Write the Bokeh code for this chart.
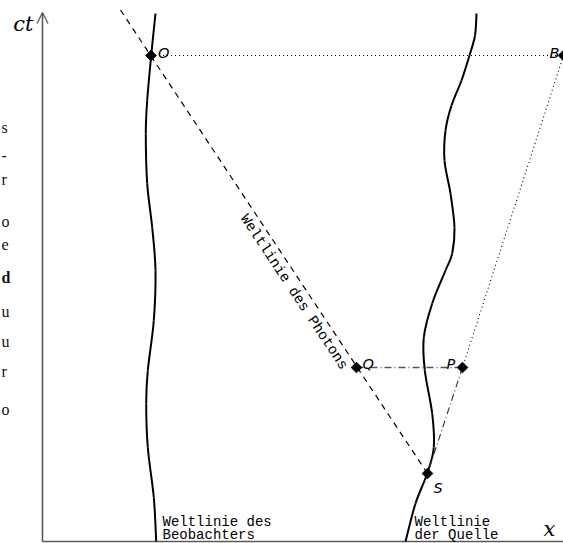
import math
from bokeh.plotting import figure
from bokeh.models import Range1d, Arrow, OpenHead, ColumnDataSource
from bokeh.core.properties import value
from bokeh.embed import file_html
from bokeh.resources import INLINE

# Coordinates: x and ct in picture units (origin at the axes' corner)
obs_x = [113, 108.7, 104.7, 103.3, 104.7, 109.7, 113, 111.3, 105.3, 103.7, 105.3, 111.3, 113.7]
obs_ct = [528, 486, 441, 408, 358, 314, 271, 221, 171, 138, 94, 44, 0]

src_x = [434, 432.5, 427, 419, 409, 403, 402, 408, 412, 409.7, 403, 389.7, 381.3, 382.3, 389.7, 391.3, 384.7, 373, 363]
src_ct = [528, 506, 486, 461, 436, 411, 381, 348, 314, 288, 271, 238, 204, 171, 128, 94, 68, 38, 0]

# events
ev_names = ["O", "B", "Q", "P", "S"]
ev_x = [108.5, 521, 314, 420, 385]
ev_ct = [486, 486, 174, 174, 68]

# photon world line (from S through Q and O up to the top)
photon_x = [385, 77]
photon_ct = [68, 533]

# text fragments at the left edge (rest of a neighbouring text)
frag_text = ["s", "-", "r", "o", "e", "d", "u", "u", "r", "o"]
frag_ct = [414, 386, 362, 320, 297, 264, 230, 200, 170, 132]
frag_style = ["normal"] * 5 + ["bold"] + ["normal"] * 4


def catmull_bezier(xs, ys):
    n = len(xs)
    out = dict(x0=[], y0=[], x1=[], y1=[], cx0=[], cy0=[], cx1=[], cy1=[])
    for i in range(n - 1):
        xa, ya = xs[max(i - 1, 0)], ys[max(i - 1, 0)]
        xb, yb = xs[i], ys[i]
        xc, yc = xs[i + 1], ys[i + 1]
        xd, yd = xs[min(i + 2, n - 1)], ys[min(i + 2, n - 1)]
        out["x0"].append(xb); out["y0"].append(yb)
        out["x1"].append(xc); out["y1"].append(yc)
        out["cx0"].append(xb + (xc - xa) / 6); out["cy0"].append(yb + (yc - ya) / 6)
        out["cx1"].append(xc - (xd - xb) / 6); out["cy1"].append(yc - (yd - yb) / 6)
    return ColumnDataSource(out)


W, H = 563, 543
p = figure(width=W, height=H, output_backend="svg", toolbar_location=None,
           x_range=Range1d(-42, 521), y_range=Range1d(-2, 541),
           min_border=0, outline_line_color=None)
p.axis.visible = False
p.grid.visible = False
p.background_fill_color = "white"
p.border_fill_color = "white"

ax_col = "#5a5a5a"
# axes
p.line([0, 521], [0, 0], line_color=ax_col, line_width=1.6)
p.add_layout(Arrow(end=OpenHead(size=11, line_color=ax_col, line_width=1.3),
                   x_start=0, y_start=0, x_end=0, y_end=529,
                   line_color=ax_col, line_width=1.6))

# world lines (smooth curves through the read points)
for xs, ys in ((obs_x, obs_ct), (src_x, src_ct)):
    p.bezier(x0="x0", y0="y0", x1="x1", y1="y1", cx0="cx0", cy0="cy0",
             cx1="cx1", cy1="cy1", source=catmull_bezier(xs, ys),
             line_color="black", line_width=2)

# photon
p.line(photon_x, photon_ct, line_color="black", line_width=1.2, line_dash="6 5")

idx = {n: i for i, n in enumerate(ev_names)}
def pt(n):
    return ev_x[idx[n]], ev_ct[idx[n]]

# O -> B dotted
p.line([pt("O")[0], pt("B")[0]], [pt("O")[1], pt("B")[1]], line_color="black",
       line_width=1.1, line_dash="1 3")
# B -> P dotted
p.line([pt("B")[0], pt("P")[0]], [pt("B")[1], pt("P")[1]], line_color="black",
       line_width=1.1, line_dash="1 3")
# Q -> P dash-dot
p.line([pt("Q")[0], pt("P")[0]], [pt("Q")[1], pt("P")[1]], line_color="#555555",
       line_width=1.3, line_dash="7 3 1 3")
# P -> S dash-dot
p.line([pt("P")[0], pt("S")[0]], [pt("P")[1], pt("S")[1]], line_color="#333333",
       line_width=1.1, line_dash="7 3 1 3")

# event markers
p.scatter(ev_x, ev_ct, marker="square", size=7.5, angle=math.pi / 4,
          fill_color="black", line_color="black")

# event labels
offs = {"O": (7, -3), "B": (-14, -3), "Q": (6, -4), "P": (-16, -4), "S": (6, 14)}
lab = ColumnDataSource(dict(x=ev_x, y=ev_ct, t=ev_names,
                            xo=[offs[n][0] for n in ev_names],
                            yo=[offs[n][1] for n in ev_names]))
p.text("x", "y", text="t", x_offset="xo", y_offset="yo", source=lab,
       text_font=value("DejaVu Sans"), text_font_style="italic",
       text_font_size="14.5px", text_baseline="alphabetic", text_align="left")

# axis labels
p.text([-9], [518], text=["ct"], text_font=value("DejaVu Serif"), text_font_style="italic",
       text_font_size="21px", text_align="right", text_baseline="alphabetic")
p.text([501], [13], text=["x"], text_font=value("DejaVu Serif"), text_font_style="italic",
       text_font_size="21px", text_align="left", text_baseline="alphabetic")

mono = value("Liberation Mono")
p.text([120, 120, 372, 372], [20, 7, 20, 7],
       text=["Weltlinie des", "Beobachters", "Weltlinie", "der Quelle"],
       text_font=mono, text_font_size="14px", text_align="left",
       text_baseline="alphabetic")

ang = math.atan2(photon_ct[1] - photon_ct[0], photon_x[1] - photon_x[0]) + math.pi
p.text([251.5], [249.5], text=["Weltlinie des Photons"], angle=ang,
       text_font=mono, text_font_size="14.5px", text_align="center",
       text_baseline="middle")

# left-edge fragments
frag = ColumnDataSource(dict(x=[-41] * len(frag_text), y=frag_ct, t=frag_text, s=frag_style))
p.text("x", "y", text="t", text_font_style="s", source=frag,
       text_font=value("Liberation Serif"), text_font_size="16px",
       text_align="left", text_baseline="alphabetic", text_color="#111111")

open("out.html", "w").write(file_html(p, INLINE))
